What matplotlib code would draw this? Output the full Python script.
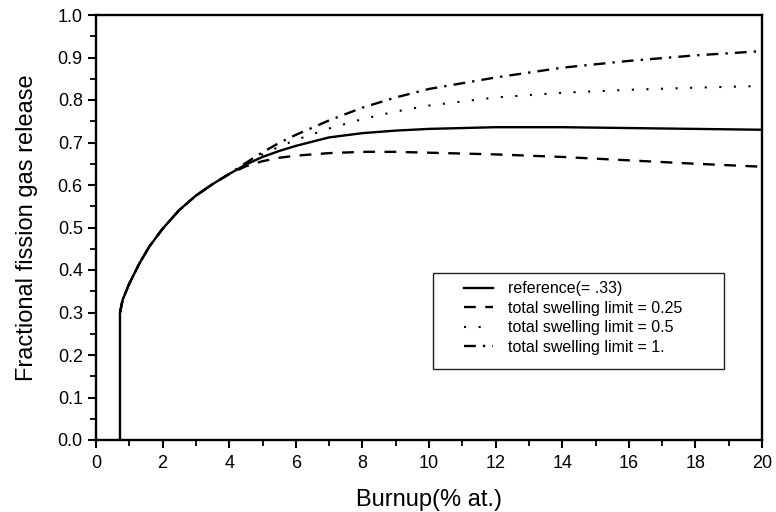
import numpy as np
import matplotlib.pyplot as plt
import matplotlib.patches as mpatches

plt.rcParams.update({
    "font.family": "sans-serif",
    "font.sans-serif": ["Liberation Sans", "Arial", "DejaVu Sans"],
})

# Burnup (% at.) and fractional fission gas release
burnup_ref = [0.72, 0.72, 0.8, 1.0, 1.3, 1.6, 2.0, 2.5, 3.0, 3.5, 4.0, 4.5, 5.0, 5.5,
              6.0, 7.0, 8.0, 9.0, 10.0, 12.0, 14.0, 16.0, 18.0, 20.0]
release_ref = [0.0, 0.30, 0.33, 0.368, 0.415, 0.455, 0.497, 0.541, 0.575, 0.602, 0.626,
               0.648, 0.666, 0.680, 0.692, 0.712, 0.722, 0.728, 0.732, 0.736, 0.736,
               0.734, 0.732, 0.730]

burnup_sw = [0.72, 0.8, 1.0, 1.3, 1.6, 2.0, 2.5, 3.0, 3.5, 4.0, 4.5, 5.0, 5.5, 6.0,
             7.0, 8.0, 9.0, 10.0, 12.0, 14.0, 16.0, 18.0, 20.0]
release_025 = [0.30, 0.33, 0.368, 0.415, 0.455, 0.497, 0.541, 0.575, 0.602, 0.626,
               0.644, 0.656, 0.664, 0.669, 0.675, 0.678, 0.678, 0.676, 0.672, 0.666,
               0.658, 0.650, 0.643]
release_05 = [0.30, 0.33, 0.368, 0.415, 0.455, 0.497, 0.541, 0.575, 0.602, 0.626,
              0.650, 0.672, 0.690, 0.706, 0.733, 0.755, 0.773, 0.787, 0.806, 0.817,
              0.824, 0.829, 0.833]
release_1 = [0.30, 0.33, 0.368, 0.415, 0.455, 0.497, 0.541, 0.575, 0.602, 0.626,
             0.652, 0.677, 0.699, 0.718, 0.752, 0.782, 0.806, 0.826, 0.853, 0.876,
             0.892, 0.905, 0.915]

labels = ["reference(= .33)", "total swelling limit = 0.25",
          "total swelling limit = 0.5", "total swelling limit = 1."]

fig = plt.figure(figsize=(7.76, 5.12), dpi=100)
ax = fig.add_axes([96 / 776, 1 - 440 / 512, 666 / 776, 425 / 512])

ax.plot(burnup_ref, release_ref, color="black", lw=1.7, label=labels[0])
ax.plot(burnup_sw, release_025, color="black", lw=1.7, dashes=(5, 4), label=labels[1])
ax.plot(burnup_sw, release_05, color="black", lw=1.5, dashes=(1, 6), label=labels[2])
ax.plot(burnup_sw, release_1, color="black", lw=1.7, dashes=(5, 3, 1, 3), label=labels[3])

ax.set_xlim(0, 20)
ax.set_ylim(0, 1.0)
ax.set_xticks(np.arange(0, 21, 2))
ax.set_xticks(np.arange(1, 20, 2), minor=True)
ax.set_yticks(np.arange(0, 1.01, 0.1))
ax.set_yticks(np.arange(0.05, 1.0, 0.1), minor=True)
ax.yaxis.set_major_formatter(plt.FormatStrFormatter("%.1f"))
ax.tick_params(which="major", direction="out", length=6, width=1.5, labelsize=13)
ax.tick_params(axis="x", which="major", pad=5)
ax.tick_params(which="minor", direction="out", length=4, width=1.3)
for s in ax.spines.values():
    s.set_linewidth(1.7)

ax.set_xlabel("Burnup(% at.)", fontsize=17, labelpad=12)
ax.set_ylabel("Fractional fission gas release", fontsize=17, labelpad=14)

# legend box drawn separately so the wide padding matches
box = mpatches.Rectangle((0.506, 0.167), 0.437, 0.226, transform=ax.transAxes,
                         facecolor="white", edgecolor="#222222", lw=1.0, zorder=4)
ax.add_patch(box)
ax.legend(loc="upper left", bbox_to_anchor=(0.546, 0.385), frameon=False,
          fontsize=11.5, handlelength=1.8, handletextpad=0.9, labelspacing=0.28,
          borderpad=0.3, borderaxespad=0).set_zorder(5)

fig.savefig("out.png", dpi=100)
